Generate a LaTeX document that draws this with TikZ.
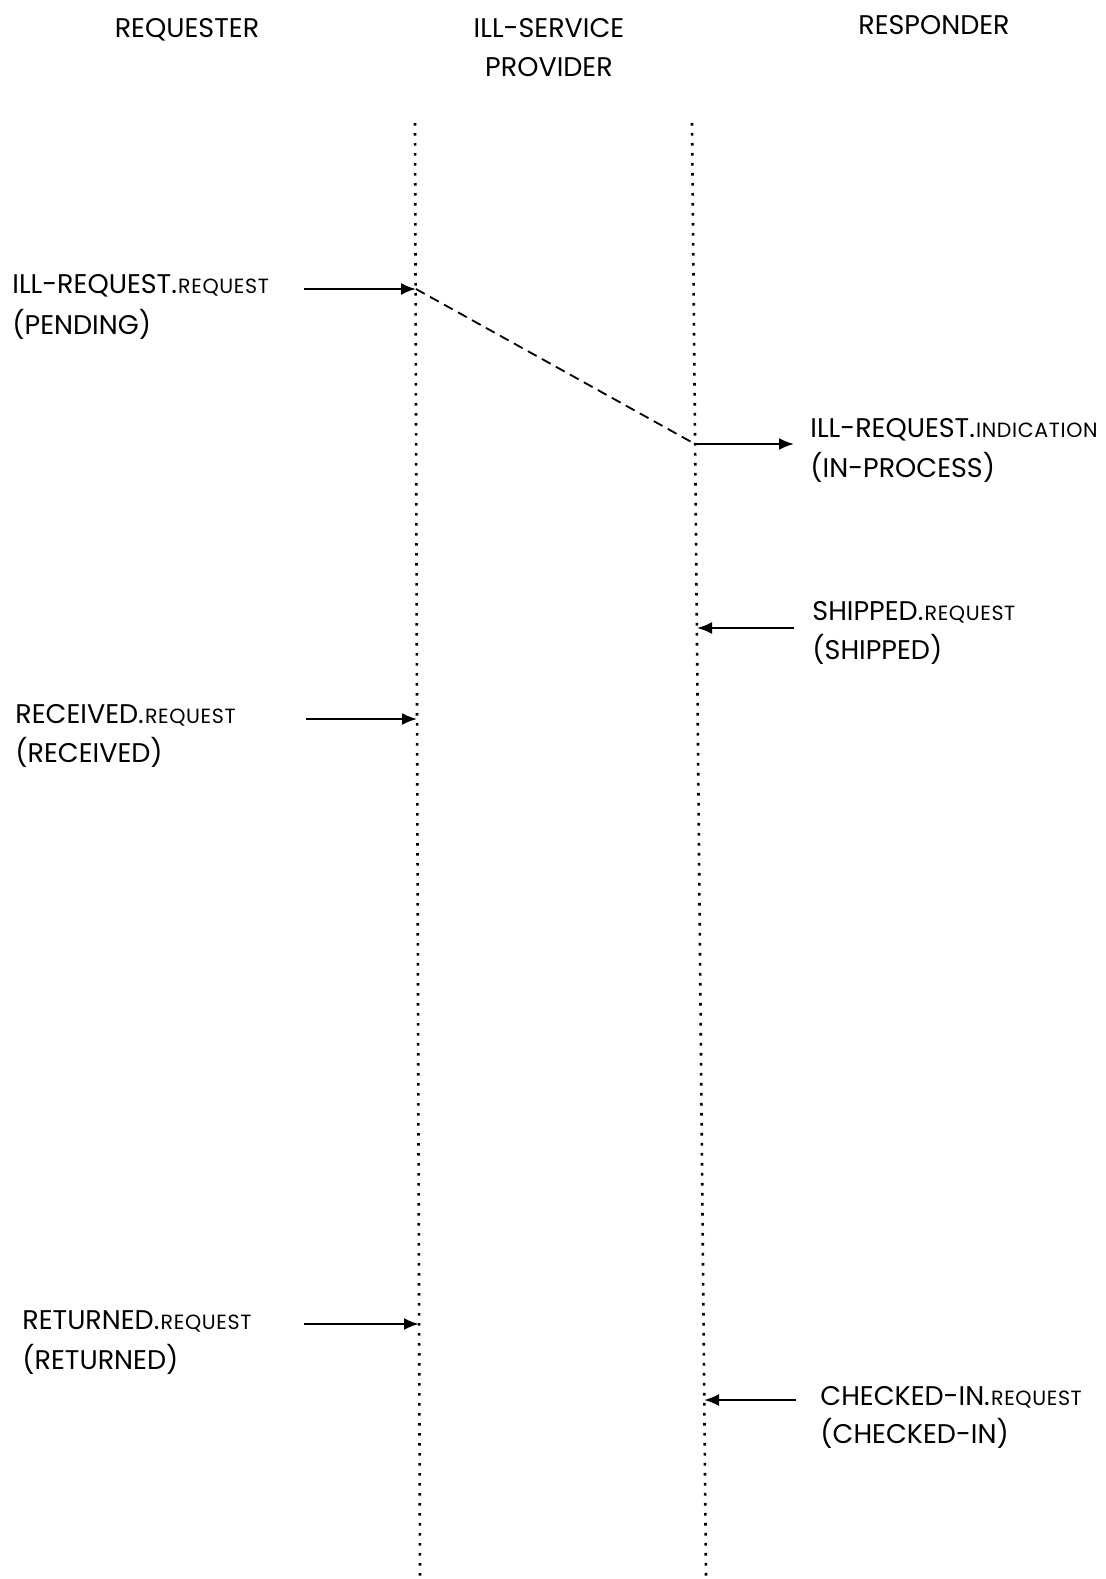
\documentclass[tikz,border=0pt]{standalone}
\usepackage{fontspec}
\setmainfont{Poppins}
\usetikzlibrary{arrows.meta}
\newcommand{\sm}[1]{\hspace{0.6pt}{\fontsize{10.3}{12}\selectfont\addfontfeatures{LetterSpace=3}#1}}
\tikzset{
    base/.style={font=\fontsize{13.5}{16}\selectfont, inner sep=0pt},
    head/.style={base, anchor=base},
    prim/.style={base, anchor=base west},
    lifeline/.style={line width=1.3pt, dash pattern=on 1.3pt off 3.7pt},
    msg/.style={-{Latex[length=7.5pt,width=6pt]}, line width=1.1pt},
    relay/.style={line width=0.9pt, dash pattern=on 5pt off 3pt}
}

\begin{document}
\begin{tikzpicture}[x=0.5pt, y=-0.5pt]
  \useasboundingbox (0,0) rectangle (1106,1579);

  % Column headers
  \node[head] (hreq) at (187,37) {REQUESTER};
  \node[head] (hill) at (549,37) {ILL-SERVICE};
  \node[head] (hprov) at (549,76) {PROVIDER};
  \node[head] (hresp) at (934,34) {RESPONDER};

  % Lifelines
  \coordinate (ltop) at (415,123);
  \coordinate (lbot) at (420,1579);
  \coordinate (rtop) at (692,123);
  \coordinate (rbot) at (706,1579);
  \draw[lifeline] (ltop) -- (lbot);
  \draw[lifeline] (rtop) -- (rbot);

  % Primitives
  \node[prim] (illreq) at (12,293) {ILL-REQUEST.\sm{REQUEST}};
  \node[prim] (pending) at (12,334) {(PENDING)};

  \node[prim] (illind) at (810,437) {ILL-REQUEST.\sm{INDICATION}};
  \node[prim] (inproc) at (810,477) {(IN-PROCESS)};

  \node[prim] (shipreq) at (812,620) {SHIPPED.\sm{REQUEST}};
  \node[prim] (shipped) at (812,659) {(SHIPPED)};

  \node[prim] (recreq) at (15,723) {RECEIVED.\sm{REQUEST}};
  \node[prim] (received) at (15,762) {(RECEIVED)};

  \node[prim] (retreq) at (22,1329) {RETURNED.\sm{REQUEST}};
  \node[prim] (returned) at (22,1369) {(RETURNED)};

  \node[prim] (chkreq) at (820,1405) {CHECKED-IN.\sm{REQUEST}};
  \node[prim] (checked) at (820,1443) {(CHECKED-IN)};

  % Arrow ends
  \coordinate (m1s) at (304,289);
  \coordinate (m1e) at (416,289);
  \coordinate (m2s) at (695,444);
  \coordinate (m2e) at (794,444);
  \coordinate (m3s) at (794,628);
  \coordinate (m3e) at (697,628);
  \coordinate (m4s) at (306,719);
  \coordinate (m4e) at (417,719);
  \coordinate (m5s) at (304,1324);
  \coordinate (m5e) at (419,1324);
  \coordinate (m6s) at (796,1400);
  \coordinate (m6e) at (704,1400);

  % Arrows
  \draw[msg] (m1s) -- (m1e);
  \draw[relay] (m1e) -- (m2s);
  \draw[msg] (m2s) -- (m2e);
  \draw[msg] (m3s) -- (m3e);
  \draw[msg] (m4s) -- (m4e);
  \draw[msg] (m5s) -- (m5e);
  \draw[msg] (m6s) -- (m6e);
\end{tikzpicture}
\end{document}
